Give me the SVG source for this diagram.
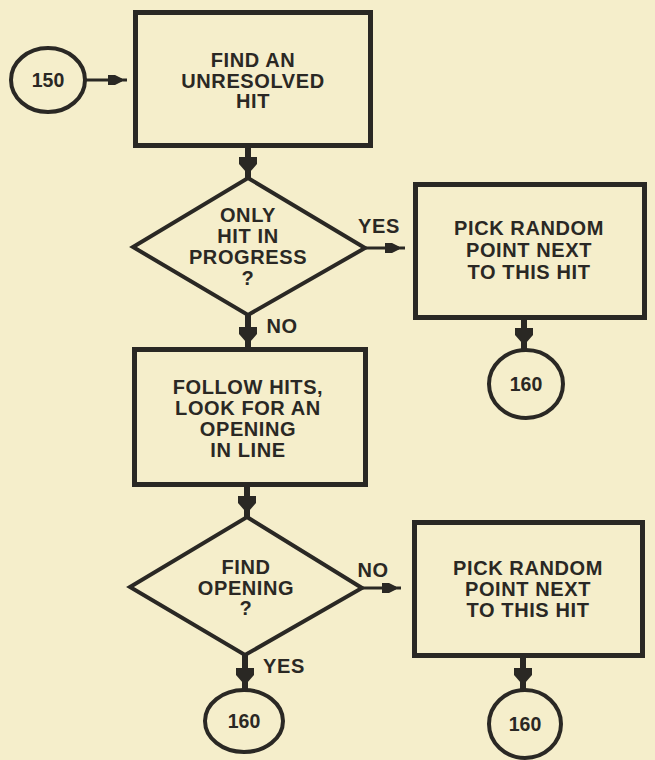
<svg xmlns="http://www.w3.org/2000/svg" width="655" height="760" viewBox="0 0 655 760">
  <style>
    .ink { fill: none; stroke: #2a2824; stroke-linejoin: miter; }
    .box { stroke-width: 5; }
    .dia { stroke-width: 4; }
    .term { stroke-width: 4; }
    .stem { fill: none; stroke: #2a2824; stroke-width: 6; }
    .wire { fill: none; stroke: #2a2824; stroke-width: 3; }
    .head { fill: #2a2824; }
    text { font-family: "Liberation Sans", Arial, Helvetica, sans-serif; font-weight: bold; fill: #2a2824; text-anchor: middle; }
    .t { font-size: 20px; letter-spacing: 0.6px; }
    .n { font-size: 19.5px; }
  </style>
  <defs>
    <!-- down-pointing heavy arrowhead, tip at (0,0) -->
    <path id="downHead" d="M-9,-15 L9,-15 L9,-8 L2,0 L-2,0 L-9,-8 Z"/>
    <!-- right-pointing small arrowhead, tip at (0,0) -->
    <path id="rightHead" d="M-14,-5 L-7,-5 L0,-1.5 L0,1.5 L-7,5 L-14,5 Z"/>
  </defs>

  <rect width="655" height="760" fill="#f5eecb"/>

  <!-- connectors -->
  <g id="connectors">
    <!-- 150 -> find unresolved hit -->
    <line class="wire" x1="86" y1="80" x2="127" y2="80"/>
    <use href="#rightHead" x="122" y="80" class="head"/>
    <!-- find -> only hit? -->
    <line class="stem" x1="248" y1="148" x2="248" y2="179"/>
    <use href="#downHead" x="248" y="172" class="head"/>
    <!-- only hit? yes -> pick random -->
    <line class="wire" x1="364" y1="248" x2="405" y2="248"/>
    <use href="#rightHead" x="399" y="248" class="head"/>
    <!-- only hit? no -> follow hits -->
    <line class="stem" x1="248" y1="314" x2="248" y2="348"/>
    <use href="#downHead" x="248" y="342" class="head"/>
    <!-- pick random -> 160 -->
    <line class="stem" x1="524" y1="320" x2="524" y2="349"/>
    <use href="#downHead" x="524" y="343" class="head"/>
    <!-- follow hits -> find opening? -->
    <line class="stem" x1="247" y1="487" x2="247" y2="518"/>
    <use href="#downHead" x="247" y="511" class="head"/>
    <!-- find opening? no -> pick random -->
    <line class="wire" x1="361" y1="588" x2="401" y2="588"/>
    <use href="#rightHead" x="396" y="588" class="head"/>
    <!-- find opening? yes -> 160 -->
    <line class="stem" x1="245" y1="654" x2="245" y2="690"/>
    <use href="#downHead" x="245" y="683" class="head"/>
    <!-- pick random -> 160 -->
    <line class="stem" x1="523" y1="658" x2="523" y2="690"/>
    <use href="#downHead" x="523" y="683" class="head"/>

    <text class="t" x="379" y="233">YES</text>
    <text class="t" x="282" y="333">NO</text>
    <text class="t" x="373" y="577">NO</text>
    <text class="t" x="284" y="673">YES</text>
  </g>

  <g id="start150">
    <ellipse class="ink term" cx="48" cy="80" rx="37" ry="32"/>
    <text class="n" x="48" y="87">150</text>
  </g>

  <g id="findHit">
    <rect class="ink box" x="135.5" y="12.5" width="235" height="133"/>
    <text class="t" x="253" y="67">FIND AN</text>
    <text class="t" x="253" y="88">UNRESOLVED</text>
    <text class="t" x="253" y="108">HIT</text>
  </g>

  <g id="onlyHit">
    <polygon class="ink dia" points="248,178 365,248 248,315 133,247"/>
    <text class="t" x="248" y="222">ONLY</text>
    <text class="t" x="248" y="243">HIT IN</text>
    <text class="t" x="248" y="264">PROGRESS</text>
    <text class="t" x="248" y="285">?</text>
  </g>

  <g id="pickRandom1">
    <rect class="ink box" x="415.5" y="184.5" width="229" height="133"/>
    <text class="t" x="529" y="235">PICK RANDOM</text>
    <text class="t" x="529" y="257">POINT NEXT</text>
    <text class="t" x="529" y="279">TO THIS HIT</text>
  </g>

  <g id="goto160a">
    <ellipse class="ink term" cx="526" cy="384" rx="37" ry="34"/>
    <text class="n" x="526" y="391">160</text>
  </g>

  <g id="followHits">
    <rect class="ink box" x="134.5" y="349.5" width="231" height="135"/>
    <text class="t" x="248" y="394">FOLLOW HITS,</text>
    <text class="t" x="248" y="415">LOOK FOR AN</text>
    <text class="t" x="248" y="436">OPENING</text>
    <text class="t" x="248" y="457">IN LINE</text>
  </g>

  <g id="findOpening">
    <polygon class="ink dia" points="247,517 362,588 245,655 130,587"/>
    <text class="t" x="246" y="574">FIND</text>
    <text class="t" x="246" y="595">OPENING</text>
    <text class="t" x="246" y="615">?</text>
  </g>

  <g id="pickRandom2">
    <rect class="ink box" x="414.5" y="522.5" width="228" height="133"/>
    <text class="t" x="528" y="575">PICK RANDOM</text>
    <text class="t" x="528" y="596">POINT NEXT</text>
    <text class="t" x="528" y="617">TO THIS HIT</text>
  </g>

  <g id="goto160b">
    <ellipse class="ink term" cx="244" cy="721" rx="39" ry="31"/>
    <text class="n" x="244" y="728">160</text>
  </g>

  <g id="goto160c">
    <ellipse class="ink term" cx="525" cy="724" rx="36" ry="34"/>
    <text class="n" x="525" y="731">160</text>
  </g>
</svg>
